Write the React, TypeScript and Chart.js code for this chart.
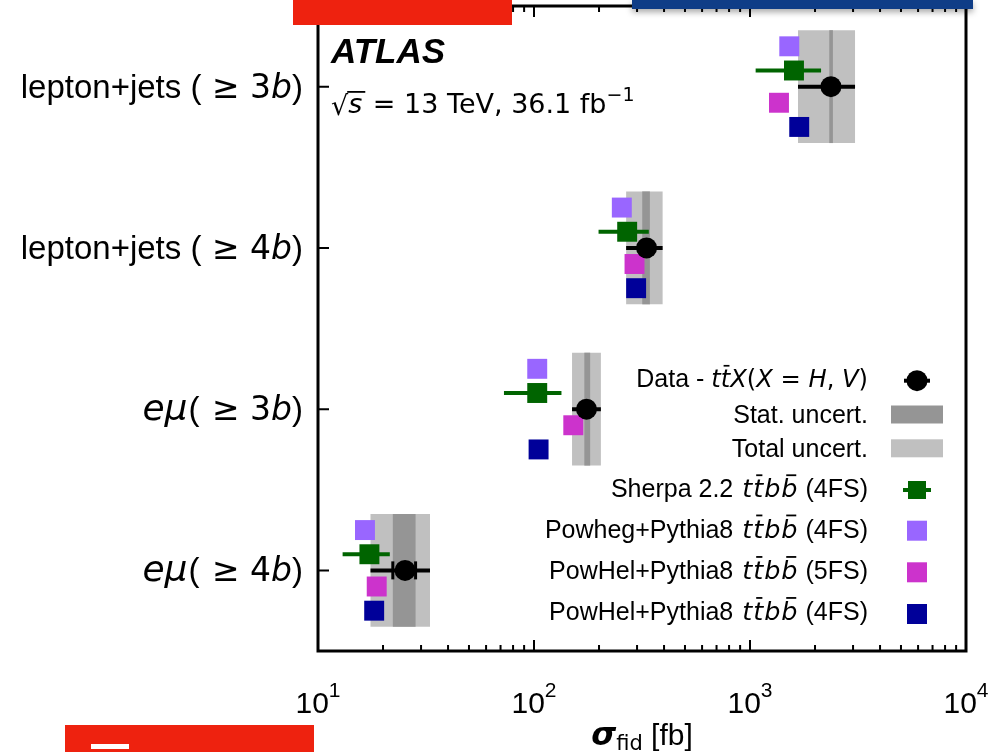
import React, { useEffect, useRef } from 'react';
import { Chart, registerables } from 'chart.js';

Chart.register(...registerables);

// Fiducial cross-section measurements, one row per channel (values in fb)
const categories = ['lepton+jets (≥3b)', 'lepton+jets (≥4b)', 'eμ(≥3b)', 'eμ(≥4b)'];
const rowIndex = [0, 1, 2, 3];

const dataValue = [2370, 332, 175, 25.3];
const statLow = [2328, 317, 171, 22.2];
const statHigh = [2420, 344, 182, 28.3];
const totalLow = [1668, 267, 150, 17.5];
const totalHigh = [3064, 394, 204, 33.0];

// Predictions
const sherpa = [1598, 270, 103.5, 17.3];
const sherpaLow = [1062, 199, 72.6, 13.0];
const sherpaHigh = [2133, 340, 134, 21.5];
const powheg4FS = [1520, 255, 103.5, 16.5];
const powhel5FS = [1362, 292, 152, 18.7];
const powhel4FS = [1690, 297, 105, 18.2];

// Vertical placement of each series inside a row (row units)
const offsetPowheg4FS = -0.25;
const offsetSherpa = -0.1;
const offsetData = 0;
const offsetPowhel5FS = 0.1;
const offsetPowhel4FS = 0.25;

// Axis decades and minor tick multipliers
const xDecades = [1, 2, 3, 4];
const minorMultipliers = [2, 3, 4, 5, 6, 7, 8, 9];

const COL_TOTAL = '#c0c0c0';
const COL_STAT = '#959595';
const COL_SHERPA = '#006400';
const COL_POWHEG4 = '#9966ff';
const COL_POWHEL5 = '#cc33cc';
const COL_POWHEL4 = '#000099';

const FONT_R = '"Liberation Sans", Arial, sans-serif';
const FONT_M = '"DejaVu Sans", sans-serif';
const reg = (s: number) => `${s}px ${FONT_R}`;
const mathIt = (s: number) => `italic ${s}px ${FONT_M}`;
const mathRm = (s: number) => `${s}px ${FONT_M}`;

type Run = { t: string; f: string; s: number; bar?: boolean; dy?: number; pad?: number };

function runsWidth(ctx: CanvasRenderingContext2D, runs: Run[]) {
  let w = 0;
  for (const r of runs) {
    ctx.font = r.f;
    w += ctx.measureText(r.t).width + (r.pad || 0);
  }
  return w;
}

function drawRuns(
  ctx: CanvasRenderingContext2D,
  runs: Run[],
  x: number,
  y: number,
  align: 'left' | 'right' | 'center'
) {
  const w = runsWidth(ctx, runs);
  let cx = align === 'left' ? x : align === 'right' ? x - w : x - w / 2;
  ctx.textAlign = 'left';
  ctx.textBaseline = 'alphabetic';
  ctx.fillStyle = '#000';
  for (const r of runs) {
    ctx.font = r.f;
    const rw = ctx.measureText(r.t).width;
    ctx.fillText(r.t, cx, y + (r.dy || 0));
    if (r.bar) {
      ctx.fillRect(cx + rw * 0.3, y + (r.dy || 0) - r.s * 0.9, rw * 0.62, Math.max(1.5, r.s * 0.07));
    }
    cx += rw + (r.pad || 0);
  }
  return w;
}

const ttbb = (s: number): Run[] => [
  { t: 't', f: mathIt(s), s, pad: 1 },
  { t: 't', f: mathIt(s), s, bar: true, pad: 1 },
  { t: 'b', f: mathIt(s), s, pad: 1 },
  { t: 'b', f: mathIt(s), s, bar: true, pad: 1 },
];

function categoryRuns(i: number, s: number): Run[] {
  const nb = categories[i].includes('4b') ? '4' : '3';
  const tail: Run[] = [
    { t: ' ≥ ', f: mathRm(s), s },
    { t: nb, f: mathRm(s), s },
    { t: 'b', f: mathIt(s), s },
    { t: ')', f: reg(s), s },
  ];
  if (categories[i].startsWith('lepton')) {
    return [{ t: 'lepton+jets (', f: reg(s), s }, ...tail];
  }
  const big = s + 3;
  return [
    { t: 'e', f: mathIt(big), s: big },
    { t: 'μ', f: mathIt(big), s: big, pad: 1 },
    { t: '(', f: reg(s), s, pad: 2 },
    ...tail,
  ];
}

const LS = 25;
const MS = 25.5;
const DS = 24.2;
const legendItems: { runs: Run[]; marker: string }[] = [
  {
    runs: [
      { t: 'Data - ', f: reg(LS), s: LS },
      { t: 't', f: mathIt(DS), s: DS },
      { t: 't', f: mathIt(DS), s: DS, bar: true },
      { t: 'X', f: mathIt(DS), s: DS },
      { t: '(', f: mathRm(DS), s: DS },
      { t: 'X', f: mathIt(DS), s: DS },
      { t: ' = ', f: mathRm(DS), s: DS },
      { t: 'H', f: mathIt(DS), s: DS },
      { t: ', ', f: mathRm(DS), s: DS },
      { t: 'V', f: mathIt(DS), s: DS },
      { t: ')', f: mathRm(DS), s: DS },
    ],
    marker: 'data',
  },
  { runs: [{ t: 'Stat. uncert.', f: reg(LS), s: LS }], marker: 'stat' },
  { runs: [{ t: 'Total uncert.', f: reg(LS), s: LS }], marker: 'total' },
  {
    runs: [{ t: 'Sherpa 2.2 ', f: reg(LS), s: LS, pad: 2 }, ...ttbb(MS), { t: ' (4FS)', f: reg(LS), s: LS }],
    marker: 'sherpa',
  },
  {
    runs: [{ t: 'Powheg+Pythia8 ', f: reg(LS), s: LS, pad: 2 }, ...ttbb(MS), { t: ' (4FS)', f: reg(LS), s: LS }],
    marker: 'powheg4',
  },
  {
    runs: [{ t: 'PowHel+Pythia8 ', f: reg(LS), s: LS, pad: 2 }, ...ttbb(MS), { t: ' (5FS)', f: reg(LS), s: LS }],
    marker: 'powhel5',
  },
  {
    runs: [{ t: 'PowHel+Pythia8 ', f: reg(LS), s: LS, pad: 2 }, ...ttbb(MS), { t: ' (4FS)', f: reg(LS), s: LS }],
    marker: 'powhel4',
  },
];
const legendMarkerY = [380.7, 414.5, 448.3, 490, 530.7, 572.3, 614];
const legendBaseline = [386.7, 423.3, 456.7, 497.3, 537.5, 579, 620];

const points = (vals: number[], off: number) => rowIndex.map((r, i) => ({ x: vals[i], y: r + off }));
const segments = (lo: number[], hi: number[], off: number) =>
  rowIndex.flatMap((r, i) => [
    { x: lo[i], y: r + off },
    { x: hi[i], y: r + off },
    { x: null, y: null },
  ]);
const bands = (lo: number[], hi: number[]) => rowIndex.map((r, i) => ({ y: r, x: [lo[i], hi[i]] }));

const decorPlugin = {
  id: 'atlasDecor',
  afterDraw(chart: any) {
    const ctx: CanvasRenderingContext2D = chart.ctx;
    const { left, right, top, bottom } = chart.chartArea;
    const xs = chart.scales.x;
    const ys = chart.scales.y;
    ctx.save();

    // ticks
    ctx.strokeStyle = '#000';
    ctx.lineWidth = 2;
    ctx.beginPath();
    for (const p of xDecades) {
      const px = xs.getPixelForValue(Math.pow(10, p));
      ctx.moveTo(px, bottom);
      ctx.lineTo(px, bottom - 11);
      ctx.moveTo(px, top);
      ctx.lineTo(px, top + 11);
      if (p < 4) {
        for (const m of minorMultipliers) {
          const mx = xs.getPixelForValue(m * Math.pow(10, p));
          ctx.moveTo(mx, bottom);
          ctx.lineTo(mx, bottom - 6);
          ctx.moveTo(mx, top);
          ctx.lineTo(mx, top + 6);
        }
      }
    }
    for (const r of rowIndex) {
      const py = ys.getPixelForValue(r);
      ctx.moveTo(left, py);
      ctx.lineTo(left + 11, py);
    }
    ctx.stroke();

    // frame
    ctx.lineWidth = 3;
    ctx.strokeRect(left, top, right - left, bottom - top);

    // x tick labels 10^n
    for (const p of xDecades) {
      const px = xs.getPixelForValue(Math.pow(10, p));
      drawRuns(
        ctx,
        [
          { t: '10', f: reg(30), s: 30 },
          { t: String(p), f: reg(21), s: 21, dy: -16 },
        ],
        px,
        713,
        'center'
      );
    }

    // x axis title
    drawRuns(
      ctx,
      [
        { t: 'σ', f: `italic bold 32px ${FONT_M}`, s: 32 },
        { t: 'fid', f: mathRm(21), s: 21, dy: 5 },
        { t: ' [fb]', f: reg(30), s: 30 },
      ],
      (left + right) / 2,
      745,
      'center'
    );

    // category labels
    for (const r of rowIndex) {
      const py = ys.getPixelForValue(r);
      drawRuns(ctx, categoryRuns(r, 33), 303, py + 11, 'right');
    }

    // experiment label
    ctx.fillStyle = '#000';
    ctx.textAlign = 'left';
    ctx.font = `italic bold 35px ${FONT_R}`;
    ctx.fillText('ATLAS', 331, 63);

    // centre-of-mass energy and luminosity
    const sx = 331;
    const sb = 113;
    const rs = 27;
    ctx.font = mathRm(rs);
    ctx.fillText('√', sx, sb + 2);
    const rootW = ctx.measureText('√').width;
    ctx.font = mathIt(rs);
    const sW = ctx.measureText('s').width;
    ctx.fillText('s', sx + rootW, sb);
    ctx.fillRect(sx + rootW - 1, sb - 22, sW + 4, 1.8);
    drawRuns(
      ctx,
      [
        { t: ' = 13 TeV, 36.1 fb', f: mathRm(rs), s: rs },
        { t: '−1', f: mathRm(19), s: 19, dy: -12 },
      ],
      sx + rootW + sW + 2,
      sb,
      'left'
    );

    // legend
    const mx = 917;
    legendItems.forEach((item, i) => {
      drawRuns(ctx, item.runs, 868, legendBaseline[i], 'right');
      const my = legendMarkerY[i];
      switch (item.marker) {
        case 'data':
          ctx.fillStyle = '#000';
          ctx.fillRect(mx - 13, my - 2, 26, 4);
          ctx.beginPath();
          ctx.arc(mx, my, 10.5, 0, Math.PI * 2);
          ctx.fill();
          break;
        case 'stat':
          ctx.fillStyle = COL_STAT;
          ctx.fillRect(891, my - 9, 52, 18);
          break;
        case 'total':
          ctx.fillStyle = COL_TOTAL;
          ctx.fillRect(891, my - 9, 52, 18);
          break;
        case 'sherpa':
          ctx.fillStyle = COL_SHERPA;
          ctx.fillRect(mx - 14, my - 2, 28, 4);
          ctx.fillRect(mx - 9, my - 9, 18, 18);
          break;
        default: {
          const c = item.marker === 'powheg4' ? COL_POWHEG4 : item.marker === 'powhel5' ? COL_POWHEL5 : COL_POWHEL4;
          ctx.fillStyle = c;
          ctx.fillRect(mx - 10, my - 10, 20, 20);
        }
      }
    });

    ctx.restore();
  },
};

export default function App() {
  const ref = useRef<HTMLCanvasElement>(null);

  useEffect(() => {
    const canvas = ref.current;
    if (!canvas) return;
    const square = (color: string, vals: number[], off: number, order: number) => ({
      type: 'scatter' as const,
      data: points(vals, off),
      pointStyle: 'rect',
      pointRadius: 14.1,
      pointBorderWidth: 0,
      backgroundColor: color,
      borderColor: color,
      showLine: false,
      order,
    });

    const chart = new Chart(canvas, {
      type: 'scatter',
      data: {
        datasets: [
          // measured points on top
          {
            type: 'scatter',
            data: points(dataValue, offsetData),
            pointStyle: 'circle',
            pointRadius: 10.5,
            pointBorderWidth: 0,
            backgroundColor: '#000',
            borderColor: '#000',
            order: 0,
          } as any,
          {
            type: 'scatter',
            data: [...points(statLow, offsetData), ...points(statHigh, offsetData)],
            pointStyle: 'line',
            rotation: 90,
            pointRadius: 9,
            borderWidth: 3,
            pointBorderWidth: 3,
            borderColor: '#000',
            backgroundColor: '#000',
            order: 1,
          } as any,
          {
            type: 'line',
            data: segments(totalLow, totalHigh, offsetData),
            borderColor: '#000',
            borderWidth: 4,
            pointRadius: 0,
            spanGaps: false,
            fill: false,
            order: 2,
          } as any,
          square(COL_SHERPA, sherpa, offsetSherpa, 3),
          {
            type: 'line',
            data: segments(sherpaLow, sherpaHigh, offsetSherpa),
            borderColor: COL_SHERPA,
            borderWidth: 4,
            pointRadius: 0,
            spanGaps: false,
            fill: false,
            order: 4,
          } as any,
          square(COL_POWHEG4, powheg4FS, offsetPowheg4FS, 5),
          square(COL_POWHEL5, powhel5FS, offsetPowhel5FS, 5),
          square(COL_POWHEL4, powhel4FS, offsetPowhel4FS, 5),
          {
            type: 'bar',
            indexAxis: 'y',
            data: bands(statLow, statHigh),
            backgroundColor: COL_STAT,
            borderWidth: 0,
            grouped: false,
            barPercentage: 0.7,
            categoryPercentage: 1,
            order: 9,
          } as any,
          {
            type: 'bar',
            indexAxis: 'y',
            data: bands(totalLow, totalHigh),
            backgroundColor: COL_TOTAL,
            borderWidth: 0,
            grouped: false,
            barPercentage: 0.7,
            categoryPercentage: 1,
            order: 10,
          } as any,
        ],
      },
      options: {
        responsive: false,
        maintainAspectRatio: false,
        animation: false,
        events: [],
        layout: { autoPadding: false, padding: { left: 318, right: 25, top: 6, bottom: 101 } },
        plugins: {
          legend: { display: false },
          tooltip: { enabled: false },
        },
        scales: {
          x: { type: 'logarithmic', min: 10, max: 10000, display: false, offset: false },
          y: {
            type: 'linear',
            min: -0.5,
            max: 3.5,
            reverse: true,
            display: false,
            offset: false,
            afterBuildTicks: (s: any) => {
              s.ticks = rowIndex.map((v) => ({ value: v }));
            },
          },
        },
      } as any,
      plugins: [decorPlugin],
    });
    return () => chart.destroy();
  }, []);

  return (
    <div
      style={{
        position: 'fixed',
        left: 0,
        top: 0,
        width: 991,
        height: 752,
        background: '#fff',
        overflow: 'hidden',
      }}
    >
      <canvas ref={ref} width={991} height={752} style={{ display: 'block' }} />
      <div style={{ position: 'absolute', left: 293, top: 0, width: 219, height: 25, background: '#ee220f' }} />
      <div
        style={{
          position: 'absolute',
          left: 632,
          top: 0,
          width: 341,
          height: 9,
          background: '#0f3d87',
          boxShadow: '0 3px 6px rgba(0,0,0,0.35)',
        }}
      />
      <div style={{ position: 'absolute', left: 65, top: 725, width: 249, height: 27, background: '#ee220f' }}>
        <div style={{ position: 'absolute', left: 26, top: 19, width: 38, height: 5, background: '#fff' }} />
      </div>
    </div>
  );
}
